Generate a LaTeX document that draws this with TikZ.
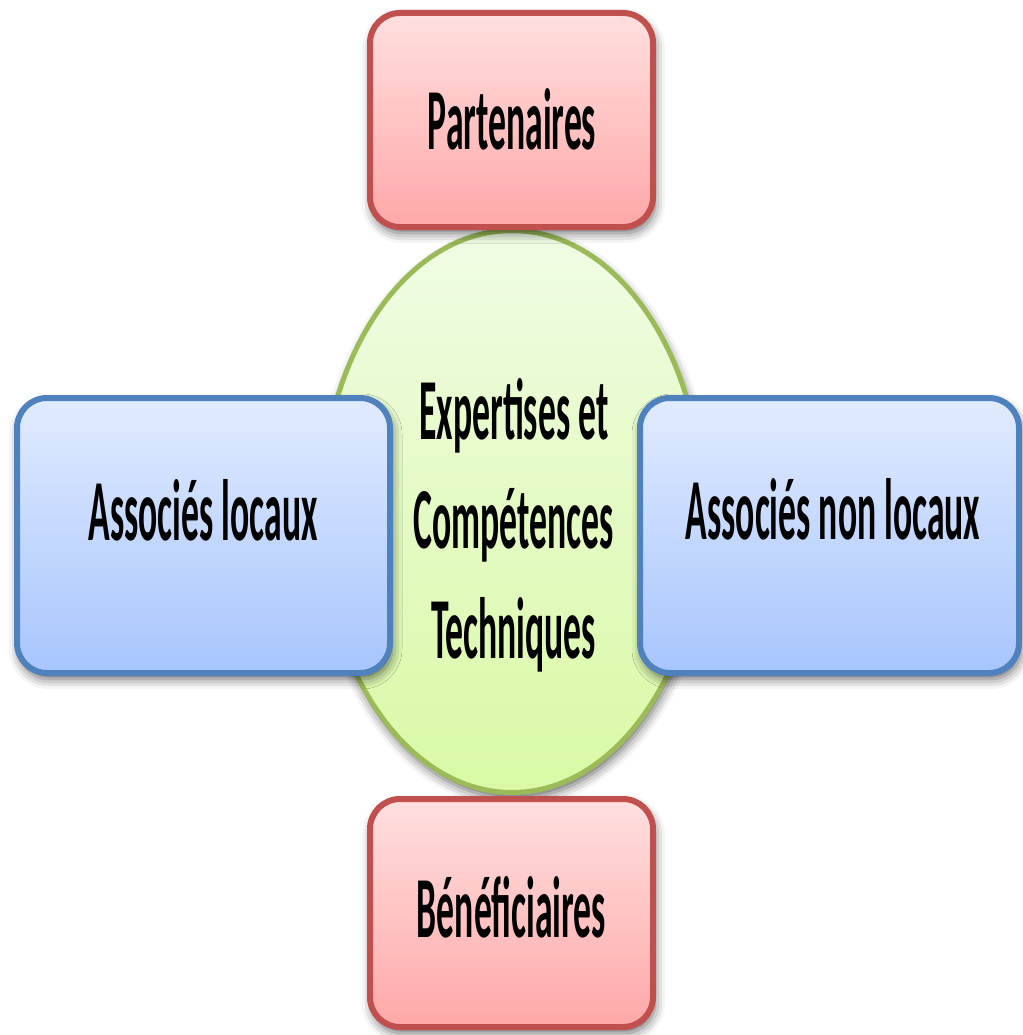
\documentclass[tikz,border=0pt]{standalone}
\usepackage{fontspec}
\newfontfamily\narrowfont{Carlito}[FakeStretch=0.41]
\usetikzlibrary{shapes.geometric,shadows.blur}
\definecolor{redline}{HTML}{C0504D}
\definecolor{redtop}{HTML}{FFDFDF}
\definecolor{redbot}{HTML}{FFA8A8}
\definecolor{blueline}{HTML}{4F81BD}
\definecolor{bluetop}{HTML}{E1EBFE}
\definecolor{bluebot}{HTML}{A7C5FD}
\definecolor{greenline}{HTML}{9BBB59}
\definecolor{greentop}{HTML}{F0FCE4}
\definecolor{greenbot}{HTML}{D9F9A5}
\begin{document}
\begin{tikzpicture}[x=1pt,y=-1pt,
  softshadow/.style={blur shadow={shadow xshift=2pt, shadow yshift=-6pt, shadow blur radius=10pt, shadow opacity=60}},
  boxbase/.style={rectangle, rounded corners=30pt, line width=6pt, inner sep=0pt, softshadow},
  redbox/.style={boxbase, draw=redline, top color=redtop, bottom color=redbot, minimum width=283pt},
  bluebox/.style={boxbase, draw=blueline, top color=bluetop, bottom color=bluebot, minimum height=275pt},
  corebox/.style={ellipse, line width=5pt, draw=greenline, top color=greentop, bottom color=greenbot, inner sep=0pt, minimum width=382pt, minimum height=562pt, softshadow},
  lbl/.style={font=\narrowfont\bfseries\fontsize{87}{100}\selectfont, inner sep=0pt, anchor=base, text=black}
]
\useasboundingbox (0,0) rectangle (1022,1035);
\node[corebox] (core) at (512,511.5) {};
\node[redbox, minimum height=214pt] (part) at (511.5,120) {};
\node[redbox, minimum height=228pt] (bene) at (511.5,913) {};
\node[bluebox, minimum width=373pt] (loc) at (203.5,535.5) {};
\node[bluebox, minimum width=379pt] (nloc) at (829.5,535.5) {};
\node[lbl] (tpart) at (512,150) {Partenaires};
\node[lbl] (tbene) at (511.5,937) {Bénéficiaires};
\node[lbl] (tloc) at (203,540) {Associés locaux};
\node[lbl] (tnloc) at (833,539) {Associés non locaux};
\node[lbl] (tcore1) at (514,439) {Expertises et};
\node[lbl] (tcore2) at (513.5,548) {Compétences};
\node[lbl] (tcore3) at (513.5,658) {Techniques};
\end{tikzpicture}
\end{document}
